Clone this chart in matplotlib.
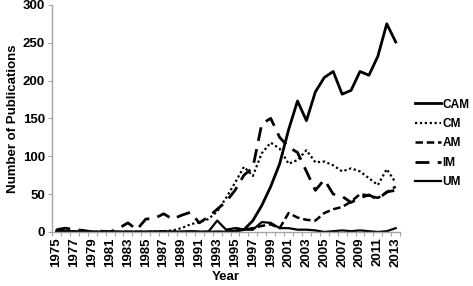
import matplotlib
matplotlib.use("Agg")
import matplotlib.pyplot as plt
import numpy as np

plt.rcParams['font.family'] = ['Liberation Sans', 'DejaVu Sans']

years = list(range(1975, 2014))

cam = [0, 0, 0, 0, 0, 0, 0, 0, 0, 0, 0, 0, 0, 0, 0, 0, 0, 0, 0, 0,
       1, 3, 15, 35, 60, 90, 135, 173, 147, 185, 204, 212, 182, 187, 212, 207, 232, 275, 251]
cm = [0, 0, 0, 0, 0, 0, 0, 0, 0, 0, 0, 1, 1, 2, 5, 10, 13, 17, 27, 45,
      65, 86, 74, 104, 118, 110, 90, 95, 108, 92, 93, 88, 80, 84, 80, 71, 62, 83, 65]
am = [0, 0, 0, 0, 0, 0, 0, 0, 0, 0, 0, 0, 0, 0, 0, 0, 0, 0, 0, 0,
      5, 3, 5, 8, 10, 5, 25, 19, 16, 15, 25, 30, 33, 40, 50, 48, 45, 52, 60]
im = [3, 5, 3, 2, 0, 1, 0, 5, 12, 3, 17, 18, 24, 17, 22, 26, 12, 20, 30, 40,
      55, 75, 85, 143, 150, 125, 112, 105, 80, 55, 69, 50, 47, 39, 45, 49, 43, 53, 55]
um = [2, 1, 1, 0, 0, 0, 0, 0, 0, 0, 0, 0, 1, 0, 0, 1, 0, 0, 15, 3,
      5, 3, 3, 13, 12, 5, 5, 3, 3, 2, 0, 1, 2, 1, 2, 1, 0, 1, 5]

x = np.arange(len(years))

fig = plt.figure(figsize=(4.73, 2.86), dpi=100)
ax = fig.add_axes([0.110, 0.189, 0.736, 0.794])

ax.plot(x, cam, color='black', lw=2.0, label='CAM')
ax.plot(x, cm, color='black', lw=1.6, linestyle=(0, (1, 1.2)), label='CM')
ax.plot(x, am, color='black', lw=1.8, linestyle=(0, (3, 1.5)), label='AM')
ax.plot(x, im, color='black', lw=2.0, linestyle=(0, (5, 3)), label='IM')
ax.plot(x, um, color='black', lw=1.6, label='UM')

ax.set_xlim(-0.5, len(years) - 0.5)
ax.set_ylim(0, 300)
ax.set_yticks(range(0, 301, 50))

ax.set_xticks(x[::2])
ax.set_xticklabels([str(y) for y in years[::2]], rotation=90)
ax.set_xticks(np.arange(-0.5, len(years)), minor=True)
ax.tick_params(axis='x', which='major', length=0, pad=4, labelsize=9.5)
ax.tick_params(axis='x', which='minor', length=3, color='#a6a6a6', width=0.8)
ax.tick_params(axis='y', length=3, color='#a6a6a6', width=0.8, labelsize=9.5, pad=2)
for lbl in ax.get_xticklabels() + ax.get_yticklabels():
    lbl.set_fontweight('bold')

for s in ['top', 'right']:
    ax.spines[s].set_visible(False)
for s in ['left', 'bottom']:
    ax.spines[s].set_color('#a6a6a6')
    ax.spines[s].set_linewidth(1.0)

ax.set_ylabel('Number of Publications', fontsize=9.5, fontweight='bold', labelpad=3)
ax.set_xlabel('Year', fontsize=9.5, fontweight='bold', labelpad=3)

fig.legend(loc='upper left', bbox_to_anchor=(0.877, 0.655), frameon=False,
           handlelength=2.2, handletextpad=0.1, labelspacing=0.62,
           borderpad=0, borderaxespad=0, prop={'weight': 'bold', 'size': 8.6})

fig.savefig('out.png', dpi=100)
